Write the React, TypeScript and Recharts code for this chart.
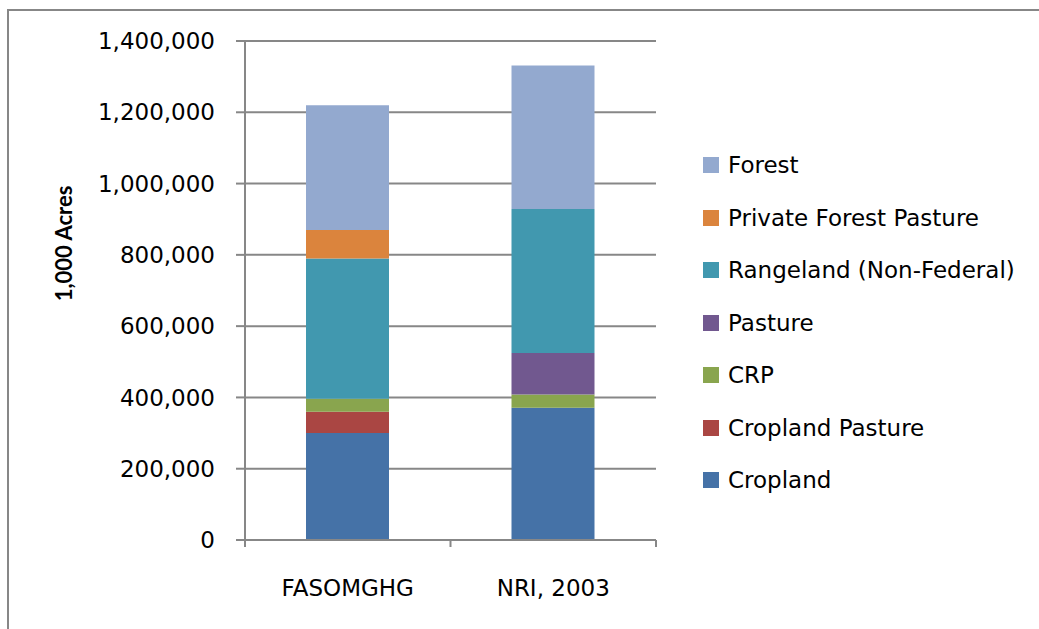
import { BarChart, Bar, XAxis, YAxis, CartesianGrid, Legend } from 'recharts';

const CATEGORIES = ['FASOMGHG', 'NRI, 2003'];

// values in 1,000 acres, bottom of stack first
const CROPLAND = [300000, 371000];
const CROPLAND_PASTURE = [60000, 0];
const CRP = [36000, 37000];
const PASTURE = [0, 117000];
const RANGELAND = [394000, 404000];
const PRIVATE_FOREST_PASTURE = [80000, 0];
const FOREST = [350000, 402000];

const Y_TICKS = [0, 200000, 400000, 600000, 800000, 1000000, 1200000, 1400000];

const SERIES = [
    { key: 'cropland', name: 'Cropland', values: CROPLAND, color: '#4572A7' },
    { key: 'croplandPasture', name: 'Cropland Pasture', values: CROPLAND_PASTURE, color: '#AA4643' },
    { key: 'crp', name: 'CRP', values: CRP, color: '#89A54E' },
    { key: 'pasture', name: 'Pasture', values: PASTURE, color: '#71588F' },
    { key: 'rangeland', name: 'Rangeland (Non-Federal)', values: RANGELAND, color: '#4198AF' },
    { key: 'pfp', name: 'Private Forest Pasture', values: PRIVATE_FOREST_PASTURE, color: '#DB843D' },
    { key: 'forest', name: 'Forest', values: FOREST, color: '#93A9CF' },
];

const DATA = CATEGORIES.map((name, i) => {
    const row: Record<string, string | number> = { name };
    SERIES.forEach((s) => {
        row[s.key] = s.values[i];
    });
    return row;
});

const FONT = '"DejaVu Sans", sans-serif';
const AXIS = '#878787';
const X_TICK_SIZE = 7;
const X_TICK_MARGIN = 32;

function LegendBox(props: any) {
    const payload = props.payload || [];
    // keep series order (top of stack first), not the library's sorted order
    const items = [...SERIES]
        .reverse()
        .map((s) => payload.find((p: any) => p.value === s.name))
        .filter(Boolean);
    return (
        <div style={{ fontFamily: FONT, fontSize: 23, color: '#000' }}>
            {items.map((it: any) => (
                <div key={it.value} style={{ display: 'flex', alignItems: 'center', height: 52.5 }}>
                    <span style={{ width: 16, height: 16, background: it.color, marginRight: 9, display: 'inline-block' }} />
                    <span>{it.value}</span>
                </div>
            ))}
        </div>
    );
}

// category label plus Excel-style tick marks on the band boundaries
function XTick(props: any) {
    const { x, y, payload, index, visibleTicksCount } = props;
    const half = payload?.offset || 0;
    const axisY = y - X_TICK_SIZE - X_TICK_MARGIN;
    const isLast = index === (visibleTicksCount ?? CATEGORIES.length) - 1;
    return (
        <g>
            <line x1={x - half} x2={x - half} y1={axisY} y2={axisY + X_TICK_SIZE} stroke={AXIS} strokeWidth={2} />
            {isLast && (
                <line x1={x + half} x2={x + half} y1={axisY} y2={axisY + X_TICK_SIZE} stroke={AXIS} strokeWidth={2} />
            )}
            <text
                x={x}
                y={y}
                textAnchor="middle"
                dominantBaseline="hanging"
                style={{ fontFamily: FONT, fontSize: 23, fill: '#000' }}
            >
                {payload.value}
            </text>
        </g>
    );
}

function YLabel(props: any) {
    const vb = props.viewBox || { x: 0, y: 0, height: 0 };
    const cx = vb.x + 63;
    const cy = vb.y + vb.height / 2 - 47;
    return (
        <text
            x={cx}
            y={cy}
            transform={`rotate(-90, ${cx}, ${cy})`}
            textAnchor="middle"
            dominantBaseline="central"
            style={{ fontFamily: 'Lato, sans-serif', fontWeight: 700, fontSize: 22, fill: '#000' }}
        >
            1,000 Acres
        </text>
    );
}

export default function App() {
    return (
        <div style={{ position: 'absolute', left: 0, top: 0, width: 1039, height: 629, background: '#fff', overflow: 'hidden' }}>
            <div
                style={{
                    position: 'absolute',
                    left: 7,
                    top: 9,
                    width: 1100,
                    height: 700,
                    borderLeft: `2px solid ${AXIS}`,
                    borderTop: `2px solid ${AXIS}`,
                }}
            />
            <BarChart
                width={1039}
                height={629}
                data={DATA}
                margin={{ top: 41, right: 383, bottom: 0, left: 0 }}
                barSize={83}
                style={{ position: 'absolute', left: 0, top: 0 }}
            >
                <CartesianGrid vertical={false} stroke={AXIS} strokeWidth={2} />
                <XAxis
                    dataKey="name"
                    height={89}
                    axisLine={{ stroke: AXIS, strokeWidth: 2 }}
                    tickLine={false}
                    tickSize={X_TICK_SIZE}
                    tickMargin={X_TICK_MARGIN}
                    tick={XTick}
                    interval={0}
                />
                <YAxis
                    width={245}
                    domain={[0, 1400000]}
                    ticks={Y_TICKS}
                    axisLine={{ stroke: AXIS, strokeWidth: 2 }}
                    tickLine={{ stroke: AXIS, strokeWidth: 2 }}
                    tickSize={9}
                    tickMargin={21}
                    tickFormatter={(v: number) => v.toLocaleString('en-US')}
                    tick={{ fill: '#000', fontFamily: FONT, fontSize: 23 }}
                    label={{ content: YLabel }}
                />
                <Legend
                    layout="vertical"
                    align="center"
                    verticalAlign="middle"
                    content={LegendBox}
                    wrapperStyle={{ left: 703, top: 139, width: 330 }}
                />
                {SERIES.map((s) => (
                    <Bar
                        key={s.key}
                        dataKey={s.key}
                        name={s.name}
                        stackId="a"
                        fill={s.color}
                        isAnimationActive={false}
                    />
                ))}
            </BarChart>
        </div>
    );
}
